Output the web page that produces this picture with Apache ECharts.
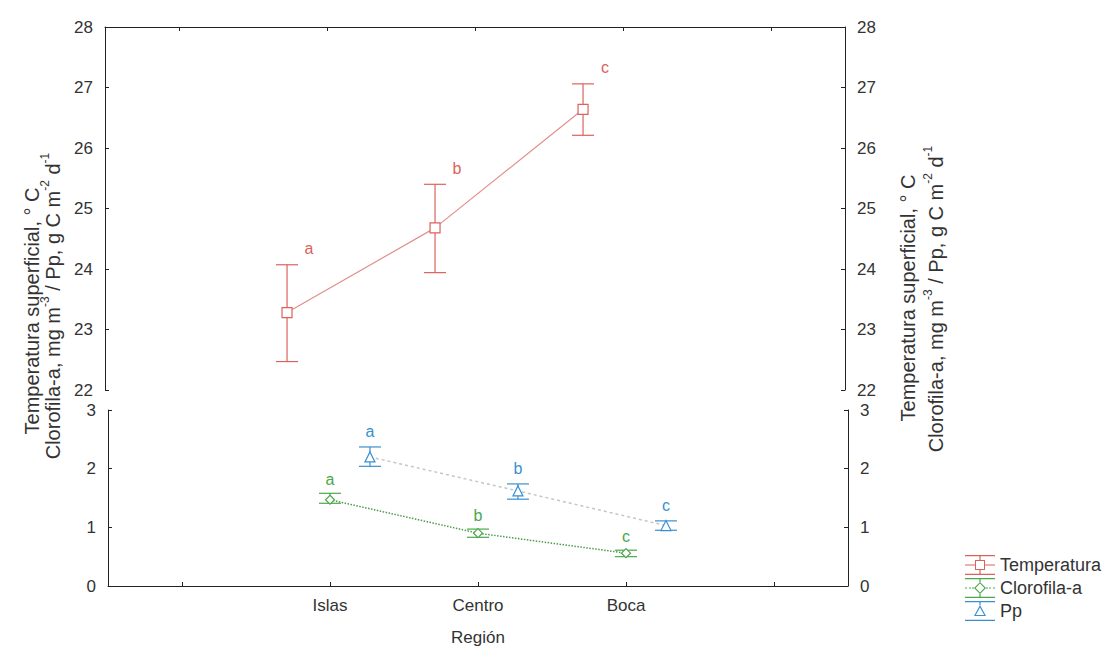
<!DOCTYPE html>
<html><head><meta charset="utf-8">
<script src="https://cdn.jsdelivr.net/npm/echarts@6/dist/echarts.min.js"></script>
<style>html,body{margin:0;padding:0;background:#fff}#c{width:1112px;height:648px}</style>
</head><body><div id="c"></div>
<script>
// ---- data ----
const regions = ['Islas', 'Centro', 'Boca'];
const xCategories = ['', 'Islas', 'Centro', 'Boca', ''];
const tempMean = [23.28, 24.68, 26.64];
const tempHigh = [24.07, 25.40, 27.06];
const tempLow  = [22.47, 23.94, 26.21];
const tempSig  = ['a', 'b', 'c'];
const chlMean = [1.47, 0.90, 0.56];
const chlHigh = [1.58, 0.97, 0.61];
const chlLow  = [1.41, 0.83, 0.50];
const chlSig  = ['a', 'b', 'c'];
const ppMean = [2.20, 1.62, 1.03];
const ppHigh = [2.37, 1.74, 1.11];
const ppLow  = [2.04, 1.48, 0.95];
const ppSig  = ['a', 'b', 'c'];
const seriesNames = ['Temperatura', 'Clorofila-a', 'Pp'];
const titleLine1 = 'Temperatura superficial, ° C';
const xTitle = 'Región';

// ---- style ----
const FONT = '"Liberation Sans", Arial, sans-serif';
const C_TEMP = '#dc625d', C_CHL = '#4aa84a', C_PP = '#3a8fd0';
const OFF = { temp: -0.27, chl: 0, pp: 0.27 };

function xPos(i, off) { return xCategories.indexOf(regions[i]) + off; }
function pts(mean, off) { return regions.map((r, i) => [xPos(i, off), mean[i]]); }
function bars(lo, hi, off) { return regions.map((r, i) => [xPos(i, off), lo[i], hi[i]]); }

function errorBar(color, sig, dx, dy, hw) {
  return function (params, api) {
    const x = api.value(0), lo = api.value(1), hi = api.value(2);
    const a = api.coord([x, lo]), b = api.coord([x, hi]);
    const st = { stroke: color, lineWidth: 1.2 };
    return { type: 'group', children: [
      { type: 'line', shape: { x1: a[0], y1: a[1], x2: b[0], y2: b[1] }, style: st },
      { type: 'line', shape: { x1: b[0] - hw, y1: b[1], x2: b[0] + hw, y2: b[1] }, style: st },
      { type: 'line', shape: { x1: a[0] - hw, y1: a[1], x2: a[0] + hw, y2: a[1] }, style: st },
      { type: 'text', x: b[0] + dx, y: b[1] + dy,
        style: { text: sig[params.dataIndex], fill: color, fontSize: 16, fontFamily: FONT,
                 align: 'center', verticalAlign: 'middle' } }
    ]};
  };
}

// legend icons (30 x 20 box)
const ICON_TEMP = 'path://M0,0H30V1.2H0Z M14.4,0H15.6V5H14.4Z M14.4,15H15.6V20H14.4Z M0,9.4H10V10.6H0Z M20,9.4H30V10.6H20Z M10,5H20V15H10Z M11,6V14H19V6Z M0,18.8H30V20H0Z';
const ICON_CHL = 'path://M0,0H30V1.2H0Z M14.4,0H15.6V4H14.4Z M14.4,16H15.6V20H14.4Z M0,9.5H2V10.5H0Z M4,9.5H6V10.5H4Z M7,9.5H9V10.5H7Z M21,9.5H23V10.5H21Z M24,9.5H26V10.5H24Z M28,9.5H30V10.5H28Z M15,4L21,10L15,16L9,10Z M15,5.6L10.6,10L15,14.4L19.4,10Z M0,18.8H30V20H0Z';
const ICON_PP = 'path://M0,0H30V1.2H0Z M14.4,0H15.6V4H14.4Z M15,4L21,15L9,15Z M15,6.5L10.8,14L19.2,14Z M0,18.8H30V20H0Z';

const tickStyle = { show: true, inside: true, length: 4, lineStyle: { color: '#222' } };
const lineStyleAxis = { show: true, onZero: false, lineStyle: { color: '#222', width: 1 } };
const yLabel = { fontSize: 17, color: '#333', margin: 12, fontFamily: FONT };

const rich = {
  a: { fontSize: 20, fontFamily: FONT, fill: '#333', color: '#333', lineHeight: 24, verticalAlign: 'bottom' },
  s: { fontSize: 12, fontFamily: FONT, fill: '#333', color: '#333', lineHeight: 10, verticalAlign: 'top' }
};
const line2 = '{a|Clorofila-a, mg m}{s|-3}{a| / Pp, g C m}{s|-2}{a| d}{s|-1}';

function title(x, y, text) {
  return { type: 'text', x: x, y: y, rotation: Math.PI / 2,
    style: { text: text, rich: rich, fontSize: 20, fontFamily: FONT, fill: '#333',
             align: 'center', verticalAlign: 'middle' } };
}
function yAx(grid, min, max, pos) {
  return { gridIndex: grid, type: 'value', min: min, max: max, interval: 1, position: pos,
    axisLine: lineStyleAxis, axisTick: tickStyle, axisLabel: yLabel, splitLine: { show: false } };
}

const chart = echarts.init(document.getElementById('c'), null, { renderer: 'svg' });
chart.setOption({
  backgroundColor: '#fff',
  animation: false,
  textStyle: { fontFamily: FONT },
  grid: [
    { left: 105, right: 267, top: 27, height: 363 },
    { left: 108, right: 264, top: 410, height: 176 }
  ],
  xAxis: [
    { gridIndex: 0, type: 'category', data: xCategories, position: 'top',
      axisLine: lineStyleAxis, axisTick: Object.assign({ alignWithLabel: true }, tickStyle),
      axisLabel: { show: false }, splitLine: { show: false } },
    { gridIndex: 0, type: 'value', min: -0.5, max: 4.5, show: false, position: 'bottom' },
    { gridIndex: 1, type: 'category', data: xCategories, position: 'bottom',
      axisLine: lineStyleAxis, axisTick: Object.assign({ alignWithLabel: true }, tickStyle),
      axisLabel: { fontSize: 17, color: '#333', margin: 11, fontFamily: FONT },
      name: xTitle, nameLocation: 'middle', nameGap: 43,
      nameTextStyle: { fontSize: 17, color: '#333', fontFamily: FONT }, splitLine: { show: false } },
    { gridIndex: 1, type: 'value', min: -0.5, max: 4.5, show: false, position: 'top' }
  ],
  yAxis: [
    yAx(0, 22, 28, 'left'),
    yAx(0, 22, 28, 'right'),
    yAx(1, 0, 3, 'left'),
    yAx(1, 0, 3, 'right')
  ],
  legend: {
    orient: 'vertical', left: 960, top: 550, itemWidth: 30, itemHeight: 20, itemGap: 3,
    selectedMode: false, itemStyle: { borderWidth: 0 },
    textStyle: { fontSize: 18, color: '#333', fontFamily: FONT },
    data: [
      { name: seriesNames[0], icon: ICON_TEMP },
      { name: seriesNames[1], icon: ICON_CHL },
      { name: seriesNames[2], icon: ICON_PP }
    ]
  },
  graphic: [
    title(32, 311, titleLine1),
    title(51, 306, line2),
    title(908, 298, titleLine1),
    title(934, 299, line2)
  ],
  series: [
    { name: seriesNames[0], type: 'custom', xAxisIndex: 1, yAxisIndex: 0, clip: false,
      itemStyle: { color: C_TEMP }, renderItem: errorBar(C_TEMP, tempSig, 22, -16, 11),
      encode: { x: 0, y: [1, 2] }, data: bars(tempLow, tempHigh, OFF.temp), z: 2 },
    { name: seriesNames[1], type: 'custom', xAxisIndex: 3, yAxisIndex: 2, clip: false,
      itemStyle: { color: C_CHL }, renderItem: errorBar(C_CHL, chlSig, 0, -14, 11),
      encode: { x: 0, y: [1, 2] }, data: bars(chlLow, chlHigh, OFF.chl), z: 2 },
    { name: seriesNames[2], type: 'custom', xAxisIndex: 3, yAxisIndex: 2, clip: false,
      itemStyle: { color: C_PP }, renderItem: errorBar(C_PP, ppSig, 0, -15, 11),
      encode: { x: 0, y: [1, 2] }, data: bars(ppLow, ppHigh, OFF.pp), z: 2 },
    { name: seriesNames[0], type: 'line', xAxisIndex: 1, yAxisIndex: 0, data: pts(tempMean, OFF.temp),
      symbol: 'rect', symbolSize: 10, showAllSymbol: true,
      itemStyle: { color: '#fff', borderColor: C_TEMP, borderWidth: 1.2 },
      lineStyle: { color: '#e0908b', width: 1.2 }, z: 3 },
    { name: seriesNames[1], type: 'line', xAxisIndex: 3, yAxisIndex: 2, data: pts(chlMean, OFF.chl),
      symbol: 'diamond', symbolSize: 9,
      itemStyle: { color: '#fff', borderColor: C_CHL, borderWidth: 1.2 },
      lineStyle: { color: '#4f9a4f', width: 1.5, type: 'dotted' }, z: 3 },
    { name: seriesNames[2], type: 'line', xAxisIndex: 3, yAxisIndex: 2, data: pts(ppMean, OFF.pp),
      symbol: 'triangle', symbolSize: 10,
      itemStyle: { color: '#fff', borderColor: C_PP, borderWidth: 1.2 },
      lineStyle: { color: '#c6c6c6', width: 1.5, type: [3, 3] }, z: 3 }
  ]
});
</script>
</body></html>
